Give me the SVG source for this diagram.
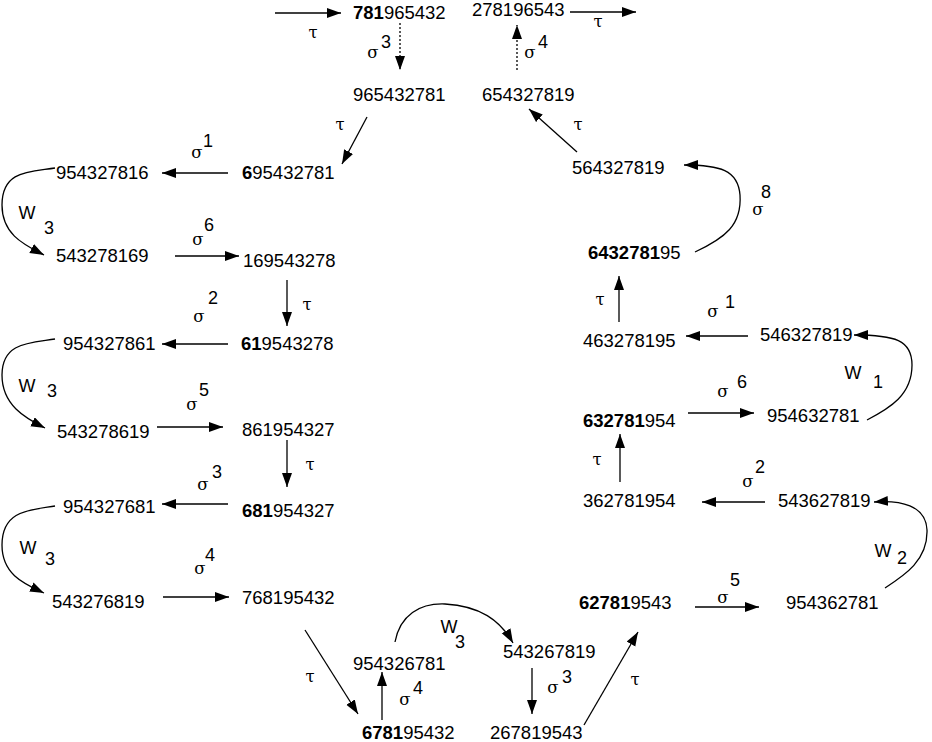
<svg xmlns="http://www.w3.org/2000/svg" width="932" height="742" viewBox="0 0 932 742">
<defs>
<marker id="ah" markerUnits="userSpaceOnUse" markerWidth="15" markerHeight="11" refX="14" refY="5" orient="auto">
<path d="M0,0 L14,5 L0,10 z" fill="#000"/>
</marker>
<style>
.n{font-family:"Liberation Sans",Arial,sans-serif;font-size:18.5px;fill:#000}
.b{font-weight:bold}
.g{font-family:"DejaVu Serif","Liberation Serif",serif;font-size:16.5px;fill:#000;text-anchor:middle}
.s{font-family:"Liberation Sans",Arial,sans-serif;font-size:18px;fill:#000;text-anchor:middle}
.c line,.c path{stroke:#000;stroke-width:1.3;fill:none;marker-end:url(#ah)}
.c .d{stroke-dasharray:2,2}
</style>
</defs>
<rect width="932" height="742" fill="#fff"/>
<g id="nodes">
<g id="n781965432"><text class="n" x="353" y="19"><tspan class="b">781</tspan>965432</text></g>
<g id="n278196543"><text class="n" x="472" y="16">278196543</text></g>
<g id="n965432781"><text class="n" x="353" y="101">965432781</text></g>
<g id="n654327819"><text class="n" x="482" y="101">654327819</text></g>
<g id="n695432781"><text class="n" x="242" y="179"><tspan class="b">6</tspan>95432781</text></g>
<g id="n954327816"><text class="n" x="56" y="179">954327816</text></g>
<g id="n543278169"><text class="n" x="56" y="262">543278169</text></g>
<g id="n169543278"><text class="n" x="243" y="267">169543278</text></g>
<g id="n619543278"><text class="n" x="241" y="350"><tspan class="b">61</tspan>9543278</text></g>
<g id="n954327861"><text class="n" x="63" y="350">954327861</text></g>
<g id="n543278619"><text class="n" x="57" y="438">543278619</text></g>
<g id="n861954327"><text class="n" x="242" y="436">861954327</text></g>
<g id="n681954327"><text class="n" x="242" y="517"><tspan class="b">681</tspan>954327</text></g>
<g id="n954327681"><text class="n" x="63" y="513">954327681</text></g>
<g id="n543276819"><text class="n" x="52" y="608">543276819</text></g>
<g id="n768195432"><text class="n" x="242" y="604">768195432</text></g>
<g id="n954326781"><text class="n" x="353" y="670">954326781</text></g>
<g id="n678195432"><text class="n" x="362" y="739"><tspan class="b">6781</tspan>95432</text></g>
<g id="n543267819"><text class="n" x="503" y="658">543267819</text></g>
<g id="n267819543"><text class="n" x="490" y="739">267819543</text></g>
<g id="n627819543"><text class="n" x="579" y="609"><tspan class="b">62781</tspan>9543</text></g>
<g id="n954362781"><text class="n" x="786" y="609">954362781</text></g>
<g id="n543627819"><text class="n" x="778" y="507">543627819</text></g>
<g id="n362781954"><text class="n" x="583" y="507">362781954</text></g>
<g id="n632781954"><text class="n" x="583" y="427"><tspan class="b">632781</tspan>954</text></g>
<g id="n954632781"><text class="n" x="767" y="422">954632781</text></g>
<g id="n546327819"><text class="n" x="760" y="341">546327819</text></g>
<g id="n463278195"><text class="n" x="583" y="347">463278195</text></g>
<g id="n643278195"><text class="n" x="588" y="259"><tspan class="b">6432781</tspan>95</text></g>
<g id="n564327819"><text class="n" x="572" y="174">564327819</text></g>
</g>
<g id="connectors" class="c">
<line x1="275" y1="13" x2="341" y2="13"/>
<line class="d" x1="400" y1="23" x2="400" y2="70"/>
<line x1="570" y1="12" x2="636" y2="12"/>
<line class="d" x1="517" y1="70" x2="517" y2="25"/>
<line x1="367" y1="117" x2="342" y2="164"/>
<line x1="228" y1="173" x2="162" y2="173"/>
<path d="M55,168 C30,172 2,170 2,205 C2,235 25,245 44,255"/>
<line x1="175" y1="256" x2="239" y2="256"/>
<line x1="287" y1="280" x2="287" y2="326"/>
<line x1="228" y1="344" x2="162" y2="344"/>
<path d="M55,339 C30,343 2,342 2,375 C2,405 25,418 45,428"/>
<line x1="157" y1="427" x2="223" y2="427"/>
<line x1="287" y1="440" x2="287" y2="487"/>
<line x1="228" y1="504" x2="162" y2="504"/>
<path d="M55,506 C30,510 2,510 2,545 C2,575 25,584 44,593"/>
<line x1="163" y1="597" x2="229" y2="597"/>
<line x1="305" y1="630" x2="358" y2="714"/>
<line x1="382" y1="720" x2="382" y2="672"/>
<path d="M395,642 C400,615 420,603 445,604 C480,606 500,620 513,643"/>
<line x1="532" y1="668" x2="532" y2="714"/>
<line x1="584" y1="725" x2="638" y2="632"/>
<line x1="695" y1="607" x2="759" y2="607"/>
<path d="M885,588 C905,575 928,560 927,530 C926,505 900,500 874,502"/>
<line x1="765" y1="502" x2="702" y2="502"/>
<line x1="620" y1="482" x2="620" y2="434"/>
<line x1="688" y1="413" x2="754" y2="413"/>
<path d="M867,420 C890,408 912,395 912,365 C912,340 895,335 854,335"/>
<line x1="748" y1="336" x2="686" y2="336"/>
<line x1="619" y1="322" x2="619" y2="276"/>
<path d="M695,252 C725,238 742,225 740,195 C738,170 720,165 684,165"/>
<line x1="577" y1="152" x2="529" y2="109"/>
</g>
<g id="labels">
<text class="g" x="313" y="38">τ</text>
<text class="g" x="373" y="58">σ</text><text class="s" x="386" y="48">3</text>
<text class="g" x="598" y="27">τ</text>
<text class="g" x="530" y="58">σ</text><text class="s" x="543" y="48">4</text>
<text class="g" x="340" y="130">τ</text>
<text class="g" x="197" y="158">σ</text><text class="s" x="208" y="147">1</text>
<text class="s" x="27" y="219">W</text><text class="s" x="49" y="234">3</text>
<text class="g" x="198" y="245">σ</text><text class="s" x="209" y="231">6</text>
<text class="g" x="307" y="310">τ</text>
<text class="g" x="199" y="322">σ</text><text class="s" x="213" y="304">2</text>
<text class="s" x="27" y="392">W</text><text class="s" x="52" y="397">3</text>
<text class="g" x="192" y="410">σ</text><text class="s" x="204" y="396">5</text>
<text class="g" x="310" y="470">τ</text>
<text class="g" x="203" y="490">σ</text><text class="s" x="217" y="478">3</text>
<text class="s" x="28" y="554">W</text><text class="s" x="50" y="565">3</text>
<text class="g" x="200" y="574">σ</text><text class="s" x="210" y="561">4</text>
<text class="g" x="310" y="682">τ</text>
<text class="g" x="405" y="705">σ</text><text class="s" x="418" y="694">4</text>
<text class="s" x="449" y="633">W</text><text class="s" x="460" y="648">3</text>
<text class="g" x="553" y="693">σ</text><text class="s" x="567" y="683">3</text>
<text class="g" x="635" y="685">τ</text>
<text class="g" x="723" y="603">σ</text><text class="s" x="735" y="586">5</text>
<text class="s" x="883" y="557">W</text><text class="s" x="902" y="564">2</text>
<text class="g" x="748" y="487">σ</text><text class="s" x="760" y="473">2</text>
<text class="g" x="597" y="465">τ</text>
<text class="g" x="723" y="397">σ</text><text class="s" x="742" y="388">6</text>
<text class="s" x="853" y="379">W</text><text class="s" x="878" y="388">1</text>
<text class="g" x="713" y="317">σ</text><text class="s" x="730" y="308">1</text>
<text class="g" x="600" y="305">τ</text>
<text class="g" x="758" y="215">σ</text><text class="s" x="766" y="198">8</text>
<text class="g" x="578" y="130">τ</text>
</g>
</svg>
